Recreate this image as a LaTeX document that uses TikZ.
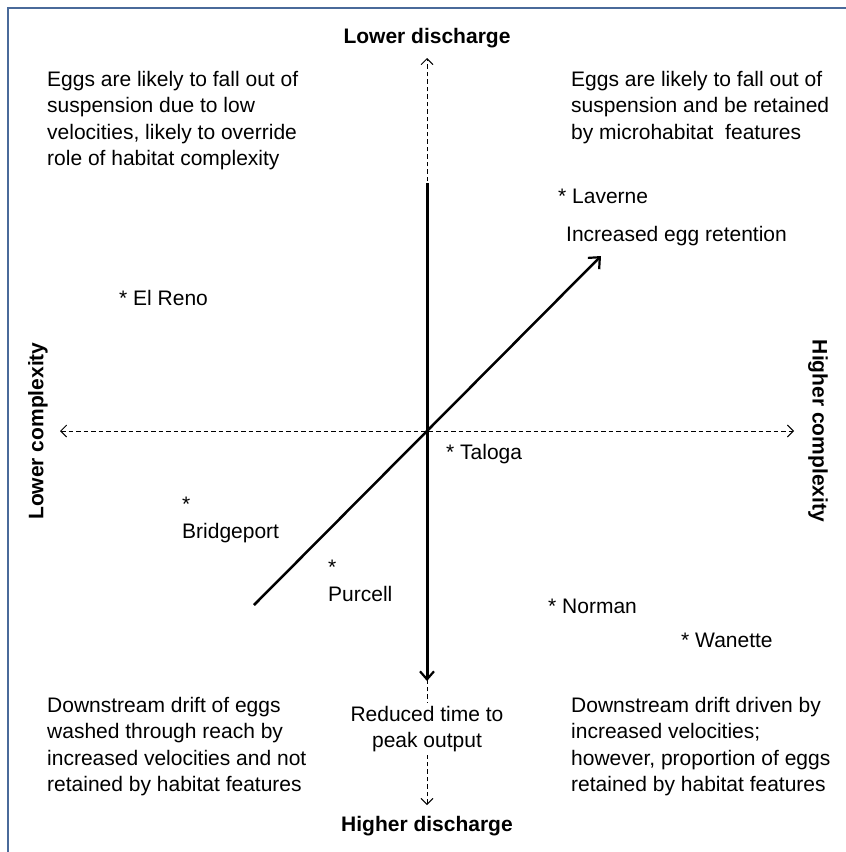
\documentclass[tikz,border=0pt]{standalone}
\usepackage{fontspec}
\setmainfont{Liberation Sans}
\usetikzlibrary{arrows.meta}
\definecolor{framecol}{HTML}{4A6A9A}
\begin{document}
\begin{tikzpicture}[x=1pt,y=-1pt,
  txt/.style={font=\fontsize{21}{26.5}\selectfont, inner sep=0pt, align=left, anchor=north west},
  ctxt/.style={font=\fontsize{21}{26.5}\selectfont, inner sep=0pt, align=center},
  lbl/.style={font=\fontsize{21}{26}\selectfont\bfseries, inner sep=0pt},
  site/.style={font=\fontsize{21}{26.5}\selectfont, inner sep=0pt, anchor=base west},
  axis/.style={line width=0.9pt, dashed, dash pattern=on 4.5pt off 3pt, {Straight Barb[length=6pt,width=12pt,line width=0.9pt]}-{Straight Barb[length=6pt,width=12pt,line width=0.9pt]}},
  thick arrow/.style={line width=3pt, -{Straight Barb[length=8pt,width=14pt,line width=2.2pt]}},
  diag arrow/.style={line width=2.5pt, -{Straight Barb[length=9pt,width=16pt,line width=2.2pt]}},
  frame/.style={draw=framecol, line width=1.3pt}
]
\useasboundingbox (0,0) rectangle (846,852);
\path[frame] (8,880) |- (880,8);

% coordinates
\coordinate (top) at (427,58);
\coordinate (bot) at (427,805);
\coordinate (left) at (60,431);
\coordinate (right) at (794,431);
\coordinate (tstart) at (427,183);
\coordinate (tend) at (427,681);
\coordinate (dstart) at (254,605);
\coordinate (dend) at (601,256);

% axes
\draw[axis] (bot) -- (top);
\draw[axis] (left) -- (right);

% centre text covering axis
\node[ctxt, fill=white, inner sep=3pt] (rt) at (427,729) {Reduced time to\\peak output};

\draw[thick arrow] (tstart) -- (tend);
\draw[diag arrow] (dstart) -- (dend);

% axis labels
\node[lbl] (ld) at (427,38) {Lower discharge};
\node[lbl] (hd) at (427,826) {Higher discharge};
\node[lbl, rotate=90] (lc) at (38,431) {Lower complexity};
\node[lbl, rotate=-90] (hc) at (818,431) {Higher complexity};

% quadrant texts
\node[txt] (tl) at (47,71) {Eggs are likely to fall out of\\suspension due to low\\velocities, likely to override\\role of habitat complexity};
\node[txt] (tr) at (571,71) {Eggs are likely to fall out of\\suspension and be retained\\by microhabitat\ \ features};
\node[txt] (bl) at (47,697) {Downstream drift of eggs\\washed through reach by\\increased velocities and not\\retained by habitat features};
\node[txt] (br) at (571,697) {Downstream drift driven by\\increased velocities;\\however, proportion of eggs\\retained by habitat features};

% sites
\node[site] (laverne) at (558,203) {* Laverne};
\node[txt] (ier) at (566,226) {Increased egg retention};
\node[site] (elreno) at (119,305) {* El Reno};
\node[site] (taloga) at (446,459) {* Taloga};
\node[txt] (bridge) at (182,497) {*\\Bridgeport};
\node[txt] (purcell) at (328,560) {*\\Purcell};
\node[site] (norman) at (548,613) {* Norman};
\node[site] (wanette) at (681,647) {* Wanette};
\end{tikzpicture}
\end{document}
